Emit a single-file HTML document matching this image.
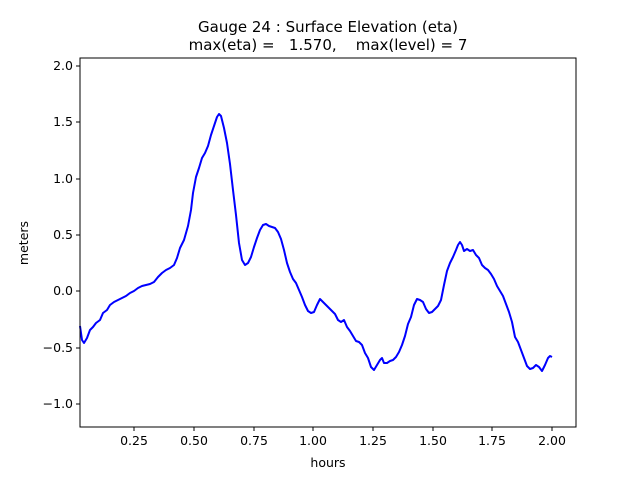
<!DOCTYPE html>
<html><head><meta charset="utf-8"><style>body{margin:0;background:#fff}svg{display:block}</style></head><body>
<svg width="640" height="480" xmlns="http://www.w3.org/2000/svg" font-family="DejaVu Sans, Liberation Sans, sans-serif">
<rect width="640" height="480" fill="#fff"/>
<text x="328" y="32" font-size="15" text-anchor="middle">Gauge 24 : Surface Elevation (eta)</text>
<text x="328" y="50" font-size="15" text-anchor="middle" xml:space="preserve">max(eta) =   1.570,    max(level) = 7</text>
<polyline fill="none" stroke="#0000ff" stroke-width="2" stroke-linejoin="round" points="80,326 82,340 84,343 87,338 90,330 93,327 96,323 100,320 103,313 107,310 110,305 114,302 118,300 122,298 126,296 130,293 134,291 138,288 142,286 146,285 150,284 154,282 158,277 162,273 166,270 170,268 174,265 177,258 180,248 184,240 188,226 191,210 193,193 196,177 199,168 202,158 205,153 208,146 211,135 214,126 217,117 219,114 221,116 224,128 227,143 230,164 233,190 236,215 239,243 242,260 245,265 248,263 251,257 254,247 257,238 260,230 263,225 266,224 269,226 272,227 275,228 278,232 281,239 284,250 287,263 290,272 293,279 296,283 299,290 302,297 305,305 308,311 311,313 314,312 317,305 320,299 323,302 326,305 329,308 332,311 335,314 338,320 341,322 344,320 347,327 350,331 353,336 356,341 359,342 362,345 365,353 368,358 371,367 374,370 377,365 380,360 382,358 384,363 387,363 390,361 393,360 396,357 399,352 402,345 405,336 408,324 411,317 414,305 417,299 420,300 423,302 426,309 429,313 432,312 435,309 438,306 441,300 444,285 447,271 450,263 453,257 456,250 458,245 460,242 462,245 464,251 467,249 470,251 473,250 476,255 479,258 482,265 485,268 488,270 491,274 494,279 497,286 500,291 503,296 506,304 509,312 512,322 515,337 518,342 521,350 524,358 527,366 530,369 533,368 536,365 539,367 542,371 545,365 548,358 550,356 552,357"/>
<rect x="80" y="58" width="496" height="369" fill="none" stroke="#000" stroke-width="1"/>
<g stroke="#000" stroke-width="1">
<line x1="134" y1="427" x2="134" y2="431"/><line x1="194" y1="427" x2="194" y2="431"/><line x1="254" y1="427" x2="254" y2="431"/><line x1="313" y1="427" x2="313" y2="431"/><line x1="373" y1="427" x2="373" y2="431"/><line x1="433" y1="427" x2="433" y2="431"/><line x1="492" y1="427" x2="492" y2="431"/><line x1="552" y1="427" x2="552" y2="431"/>
<line x1="76" y1="66" x2="80" y2="66"/><line x1="76" y1="122" x2="80" y2="122"/><line x1="76" y1="179" x2="80" y2="179"/><line x1="76" y1="235" x2="80" y2="235"/><line x1="76" y1="291" x2="80" y2="291"/><line x1="76" y1="348" x2="80" y2="348"/><line x1="76" y1="404" x2="80" y2="404"/>
</g>
<g font-size="12.5" text-anchor="middle">
<text x="134" y="445">0.25</text><text x="194" y="445">0.50</text><text x="254" y="445">0.75</text><text x="313" y="445">1.00</text><text x="373" y="445">1.25</text><text x="433" y="445">1.50</text><text x="492" y="445">1.75</text><text x="552" y="445">2.00</text>
<text x="328" y="467">hours</text>
</g>
<g font-size="12.5" text-anchor="end">
<text x="73" y="70">2.0</text><text x="73" y="126">1.5</text><text x="73" y="183">1.0</text><text x="73" y="239">0.5</text><text x="73" y="295">0.0</text><text x="73" y="352">−0.5</text><text x="73" y="408">−1.0</text>
</g>
<text x="28" y="243" font-size="12.5" text-anchor="middle" transform="rotate(-90 28 243)">meters</text>
</svg>
</body></html>
